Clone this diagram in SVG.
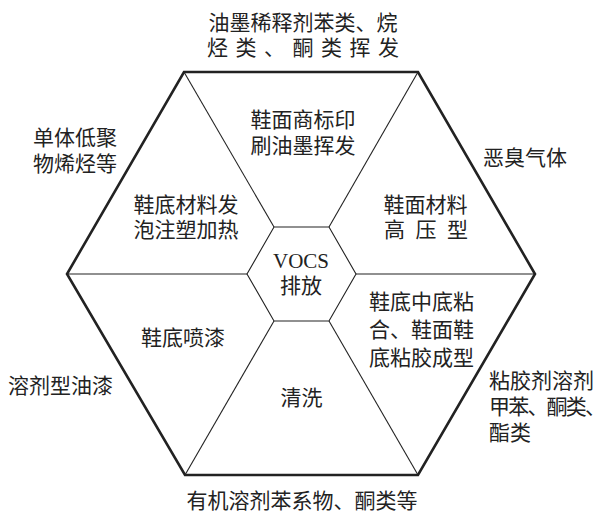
<svg xmlns="http://www.w3.org/2000/svg" width="606" height="512" viewBox="0 0 606 512">
<style>
.t{font-family:"Noto Sans CJK SC","Noto Sans",sans-serif;font-size:21px;fill:#222;}
.m{text-anchor:middle;}
.v{font-family:"Liberation Serif","Noto Sans CJK SC",serif;font-size:21px;fill:#222;text-anchor:middle;}
.outer{fill:none;stroke:#222;stroke-width:2.6;stroke-linejoin:miter;}
.thin{fill:none;stroke:#222;stroke-width:1.1;}
</style>
<rect width="606" height="512" fill="#fff"/>
<g id="connectors">
<polygon class="outer" points="184,72 418,72 535,274 418,475 185,475 67,274"/>
<polygon class="thin" points="274,227 329,227 356,274 329,321 274,321 247,274"/>
<line class="thin" x1="274" y1="227" x2="184" y2="72"/>
<line class="thin" x1="329" y1="227" x2="418" y2="72"/>
<line class="thin" x1="247" y1="274" x2="67" y2="274"/>
<line class="thin" x1="356" y1="274" x2="535" y2="274"/>
<line class="thin" x1="274" y1="321" x2="185" y2="475"/>
<line class="thin" x1="329" y1="321" x2="418" y2="475"/>
</g>
<g id="center">
<text class="v" x="301" y="268">VOCS</text>
<text class="t m" x="301" y="293">排放</text>
</g>
<g id="seg-top">
<text class="t m" x="303" y="127">鞋面商标印</text>
<text class="t m" x="303" y="153">刷油墨挥发</text>
</g>
<g id="seg-upper-right">
<text class="t m" x="425.5" y="212">鞋面材料</text>
<text class="t" x="384" y="237" textLength="84" lengthAdjust="spacing">高 压 型</text>
</g>
<g id="seg-lower-right">
<text class="t m" x="421.5" y="309">鞋底中底粘</text>
<text class="t m" x="421.5" y="337">合、鞋面鞋</text>
<text class="t m" x="421.5" y="365">底粘胶成型</text>
</g>
<g id="seg-bottom">
<text class="t m" x="301.5" y="405">清洗</text>
</g>
<g id="seg-lower-left">
<text class="t m" x="183" y="345">鞋底喷漆</text>
</g>
<g id="seg-upper-left">
<text class="t m" x="186" y="212">鞋底材料发</text>
<text class="t m" x="186" y="237">泡注塑加热</text>
</g>
<g id="label-top">
<text class="t m" x="303" y="30">油墨稀释剂苯类、烷</text>
<text class="t" x="207" y="55" textLength="192" lengthAdjust="spacing">烃 类 、 酮 类 挥 发</text>
</g>
<g id="label-upper-right">
<text class="t" x="483" y="165">恶臭气体</text>
</g>
<g id="label-lower-right">
<text class="t" x="489" y="388">粘胶剂溶剂</text>
<text class="t" x="489" y="414" textLength="117" lengthAdjust="spacing">甲苯、酮类、</text>
<text class="t" x="489" y="440">酯类</text>
</g>
<g id="label-bottom">
<text class="t m" x="302" y="508">有机溶剂苯系物、酮类等</text>
</g>
<g id="label-lower-left">
<text class="t" x="8" y="393">溶剂型油漆</text>
</g>
<g id="label-upper-left">
<text class="t" x="33" y="145">单体低聚</text>
<text class="t" x="33" y="171">物烯烃等</text>
</g>
</svg>
